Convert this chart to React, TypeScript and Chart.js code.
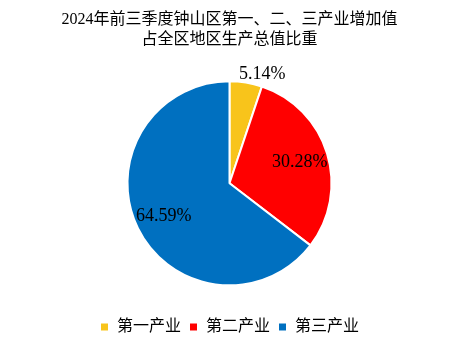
import React, { useEffect, useRef } from "react";
import { Chart, registerables } from "chart.js";

Chart.register(...registerables);

const titleLines = ["2024年前三季度钟山区第一、二、三产业增加值", "占全区地区生产总值比重"];
const categories = ["第一产业", "第二产业", "第三产业"];
const shares = [5.14, 30.28, 64.59];
const colors = ["#F8C41B", "#FF0000", "#0070C0"];

const FONT = "'Liberation Serif', 'Noto Sans CJK SC', serif";

const labelPlugin = {
  id: "sliceLabels",
  afterDatasetsDraw(chart: any) {
    const ctx = chart.ctx;
    const meta = chart.getDatasetMeta(0);
    ctx.save();
    ctx.font = "18px 'Liberation Serif', serif";
    ctx.fillStyle = "#000";
    ctx.textAlign = "center";
    ctx.textBaseline = "middle";
    meta.data.forEach((arc: any, i: number) => {
      const p = arc.getProps(["x", "y", "startAngle", "endAngle", "outerRadius"], true);
      const mid = (p.startAngle + p.endAngle) / 2;
      const v = shares[i];
      const r = v < 10 ? p.outerRadius + 8 : p.outerRadius * 0.72;
      let x = p.x + Math.cos(mid) * r;
      let y = p.y + Math.sin(mid) * r;
      if (v < 10) x += 15;
      ctx.fillText(v.toFixed(2) + "%", x, y);
    });
    ctx.restore();
  },
};

export default function App() {
  const ref = useRef<HTMLCanvasElement>(null);
  useEffect(() => {
    if (!ref.current) return;
    const chart = new Chart(ref.current, {
      type: "pie",
      data: {
        labels: categories,
        datasets: [
          {
            data: shares,
            backgroundColor: colors,
            borderColor: "#ffffff",
            borderWidth: 2,
            radius: 102,
          },
        ],
      },
      options: {
        animation: false,
        responsive: true,
        maintainAspectRatio: false,
        layout: { padding: { top: 1, bottom: 5, left: 0, right: 0 } },
        plugins: {
          title: {
            display: true,
            text: titleLines,
            color: "#000",
            font: { family: FONT, size: 16, weight: "normal", lineHeight: 1.3 },
            padding: { top: 0, bottom: 5 },
          },
          legend: {
            position: "bottom",
            labels: {
              color: "#000",
              font: { family: FONT, size: 16 },
              usePointStyle: true,
              pointStyle: "rect",
              boxWidth: 9,
              boxHeight: 9,
              padding: 8,
            },
          },
          tooltip: { enabled: false },
        },
      },
      plugins: [labelPlugin],
    });
    return () => chart.destroy();
  }, []);
  return (
    <div style={{ width: 443, height: 342 }}>
      <canvas ref={ref} />
    </div>
  );
}
